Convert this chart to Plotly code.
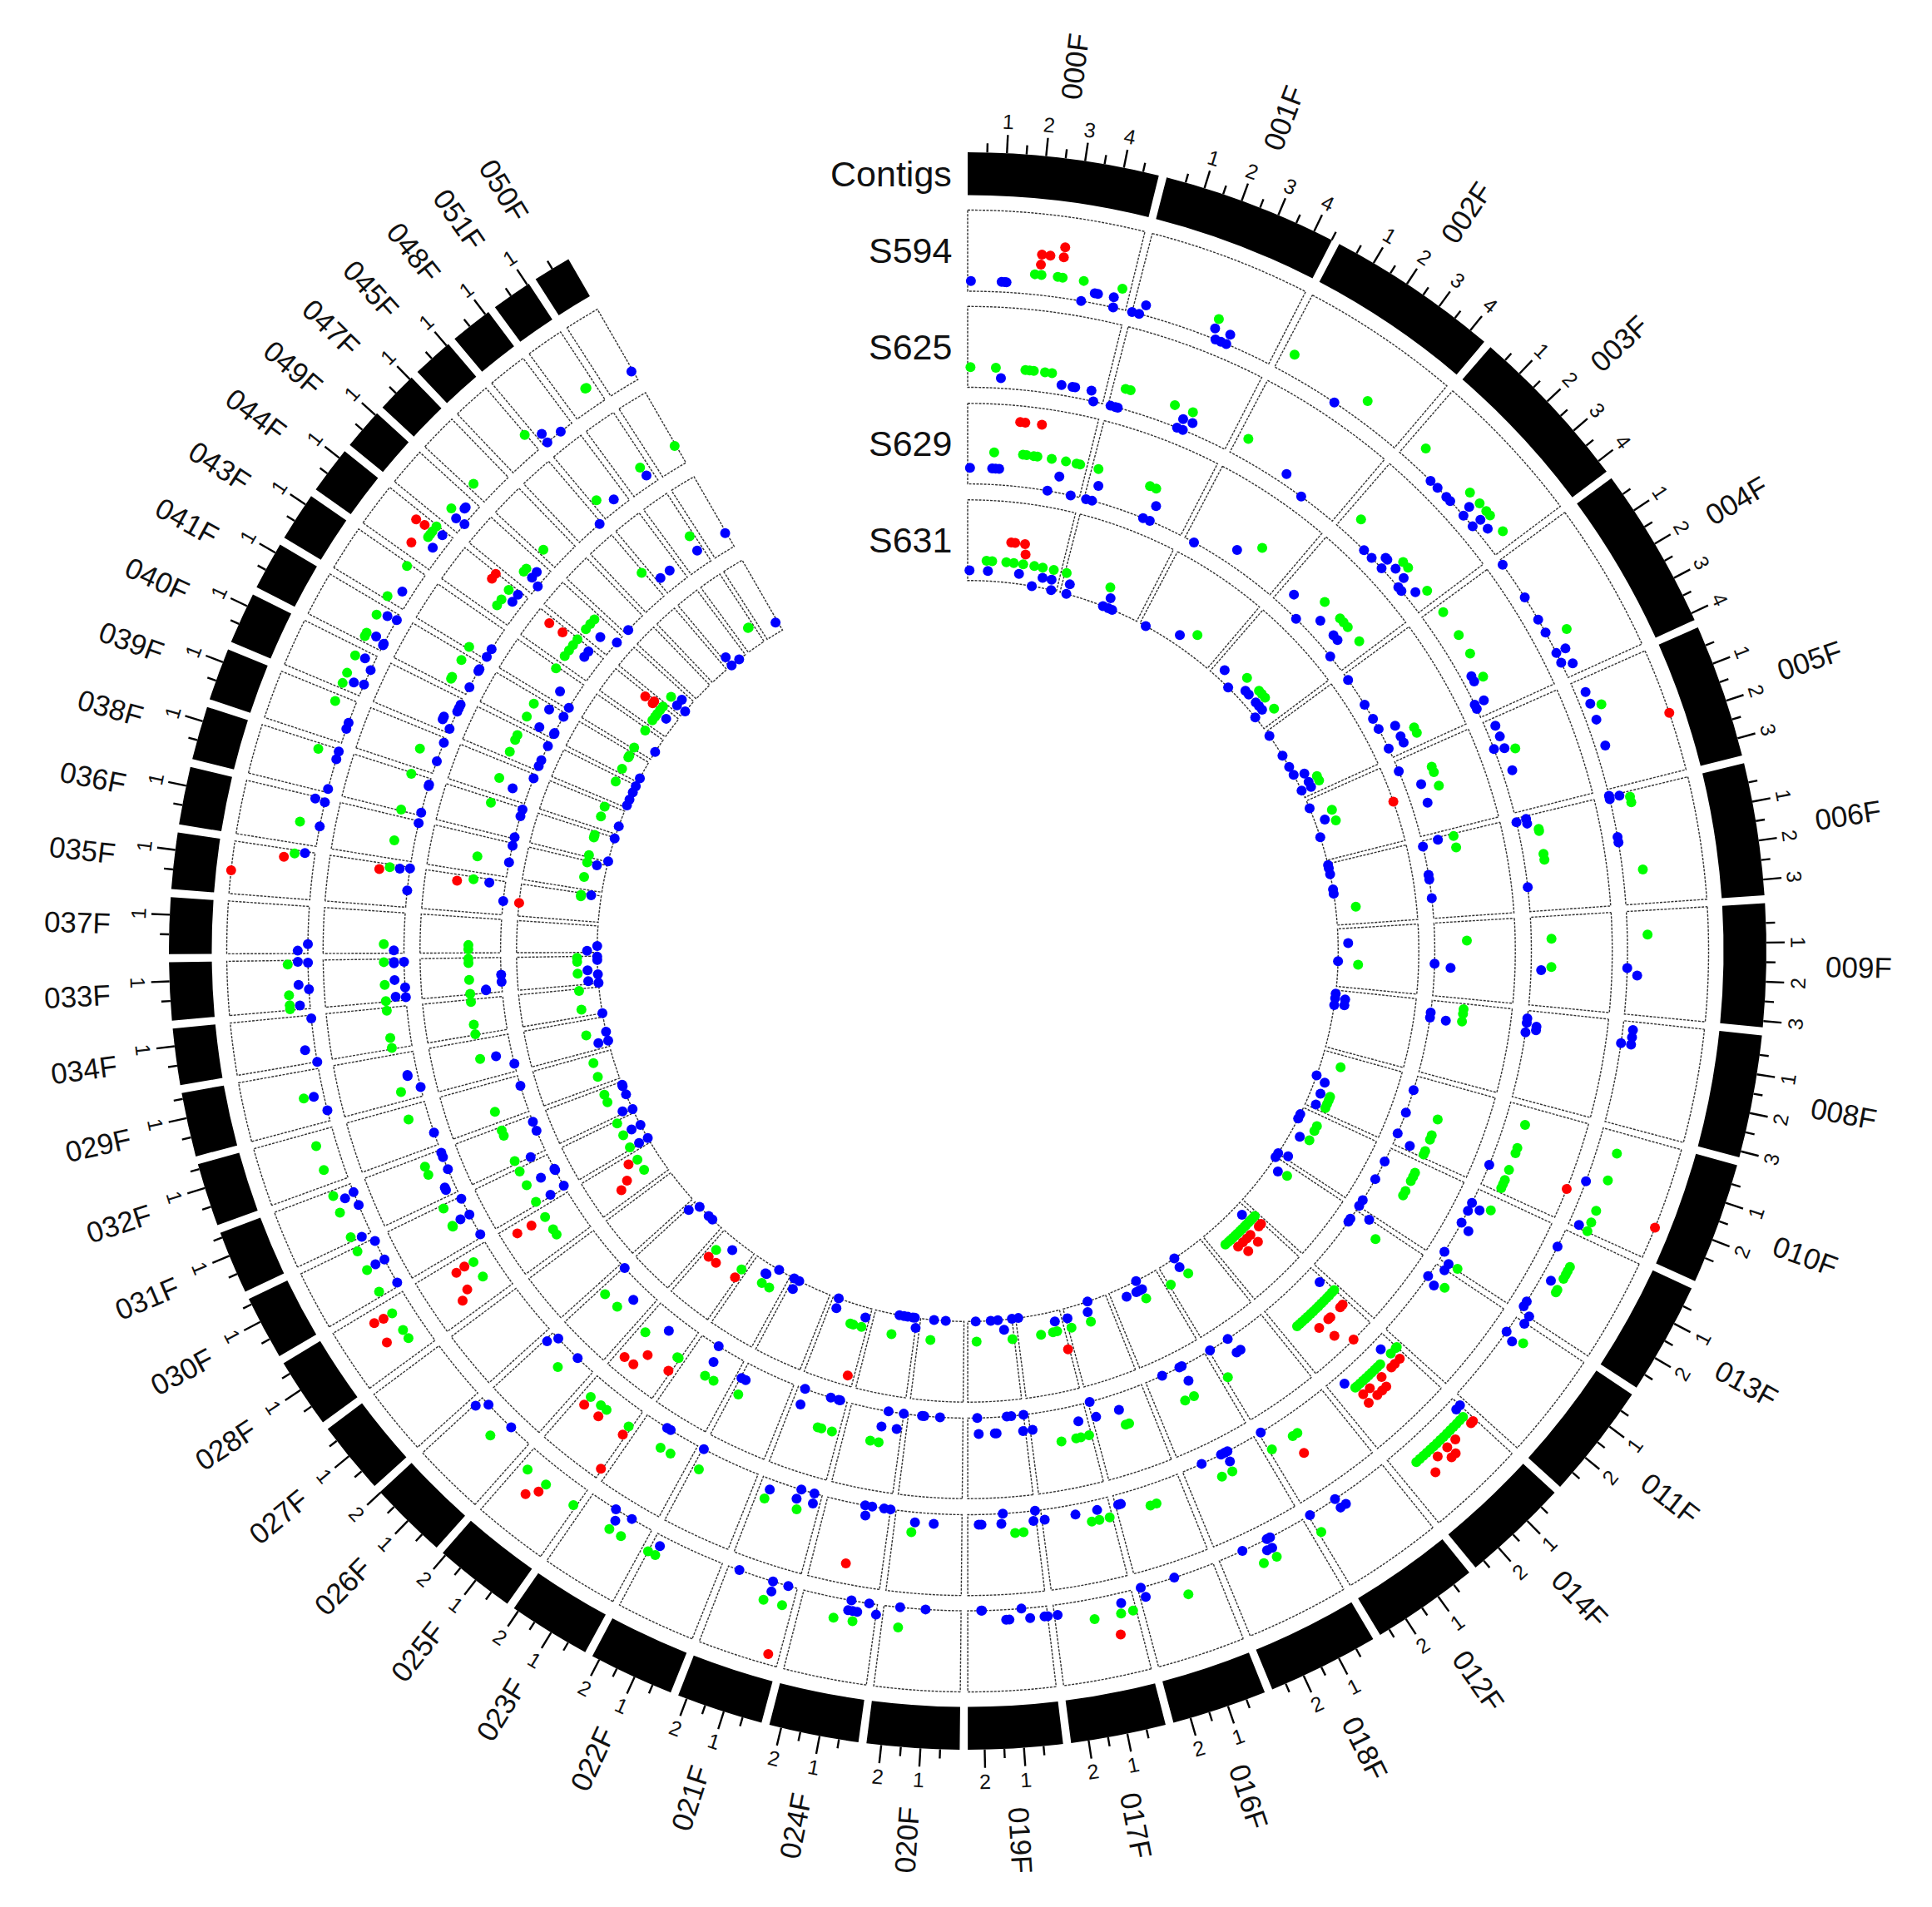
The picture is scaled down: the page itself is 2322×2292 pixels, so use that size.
import math
import plotly.graph_objects as go

# ---- contigs, clockwise from the top, lengths in Mb
CONTIGS = ["000F","001F","002F","003F","004F","005F","006F","009F","008F","010F","013F","011F",
           "014F","012F","018F","016F","017F","019F","020F","024F","021F","022F","023F","025F",
           "026F","027F","028F","030F","031F","032F","029F","034F","033F","037F","035F","036F",
           "038F","039F","040F","041F","043F","044F","049F","047F","045F","048F","051F","050F"]
LENGTHS = [4.91,4.51,4.46,4.34,4.19,3.45,3.40,3.16,3.16,3.14,2.89,2.98,
           2.77,2.77,2.87,2.45,2.45,2.43,2.38,2.31,2.23,2.20,2.13,2.09,
           2.02,1.88,1.81,1.65,1.63,1.63,1.65,1.45,1.49,1.45,1.45,1.49,
           1.38,1.35,1.33,1.24,1.26,1.22,1.06,1.06,1.06,1.10,1.05,0.98]
LAST_TICK = {"010F": 2.5}
TRACK_NAMES = ["S594", "S625", "S629", "S631"]

# ---- readings per track: contig -> (position along contig 0..1, value 0..1)
S594 = {
"000F":dict(b=[(.02,.125),(.21,.125),(.23,.125),(.24,.125),(.715,0),(.79,.125),(.81,.125),(.91,.125),(.92,0)],g=[(.41,.25),(.45,.25),(.55,.25),(.58,.25),(.71,.25),(.95,.25)],r=[(.44,.5),(.49,.5),(.44,.375),(.57,.625),(.57,.5)]),
"001F":dict(b=[(0,0),(.05,0),(.08,.125),(.57,.125),(.68,.125),(.6,0),(.64,0),(.68,0)],g=[(.57,.25)]),
"002F":dict(b=[(.48,0)],g=[(.08,.25),(.66,.25)]),
"003F":dict(b=[(.3,0),(.37,0),(.46,0),(.5,0),(.62,.125),(.64,0),(.74,.125),(.74,0),(.82,.125)],g=[(.12,.25),(.55,.25),(.65,.25),(.72,.25),(.76,.25),(.9,.25)]),
"004F":dict(b=[(.04,0),(.33,0),(.52,0),(.63,0),(.8,.125),(.8,0),(.92,.125),(.88,0)],g=[(.68,.25)]),
"005F":dict(b=[(.12,.125),(.23,.125),(.38,.125),(.62,.125)],g=[(.27,.25)],r=[(.53,1)]),
"006F":dict(b=[(0,0),(.03,0),(.02,.125),(.38,0),(.43,0)],g=[(.05,.25),(.1,.25),(.7,.25)]),
"009F":dict(b=[(.55,0),(.62,.125)],g=[(.23,.25)]),
"008F":dict(b=[(.08,.125),(.15,.125),(.22,.125),(.22,0)]),
"010F":dict(b=[(.55,0),(.97,.125)],g=[(.2,.25),(.47,.25),(.78,.25),(.9,.25),(.99,.25)],r=[(.72,1)]),
"013F":dict(b=[(.2,0),(.55,.125),(.87,0),(.93,0),(.99,.125)],g=[(.33,.25),(.38,.25),(.42,.25),(.47,.25),(.6,.25),(.63,.25)]),
"011F":dict(b=[(.01,.125),(.18,0),(.23,.125)],g=[(.18,.25)]),
"014F":dict(b=[(0,.125),(.06,.125)],g=[(.07,.25),(.12,.25),(.17,.25),(.22,.25),(.27,.25),(.32,.25),(.37,.25),(.42,.25),(.47,.25),(.52,.25),(.57,.25),(.62,.25),(.67,.25),(.72,.25),(.77,.25)],r=[(.03,.375),(.06,.375),(.3,.375),(.42,.375),(.56,.375),(.4,.5),(.46,.5),(.69,.5)]),
"012F":dict(b=[(.65,0),(.98,0),(.58,.125),(.65,.125)],g=[(.97,.25)]),
"018F":dict(b=[(.4,0),(.44,0),(.73,0),(.49,.125),(.43,.125)],g=[(.43,.25),(.58,.25)]),
"016F":dict(b=[(.52,0),(.93,.125),(.96,0)],g=[(.42,.25)]),
"017F":dict(b=[(.16,.125),(.96,.125)],g=[(.19,.25),(.04,.25),(.52,.25)],r=[(.25,.5)]),
"019F":dict(b=[(.04,.125),(0,.125),(.22,.125),(.32,0),(.52,.125),(.48,.125),(.83,0),(.82,0)]),
"020F":dict(b=[(.46,0),(.79,0)],g=[(.79,.25)]),
"024F":dict(b=[(0,.125),(.11,0),(.35,0),(.37,.125),(.31,.125),(.25,.125)],g=[(.29,.25),(.54,.25)]),
"021F":dict(b=[(.13,0),(.35,0),(.33,.125),(.84,0)],g=[(.14,.25),(.4,.25)],r=[(.14,.875)]),
"022F":dict(b=[(.89,.125)],g=[(1,.25),(.89,.25)]),
"023F":dict(b=[(.33,0),(.6,0),(.52,.125)],g=[(.53,.25),(.34,.25)]),
"025F":dict(g=[(.04,.25),(.53,.25),(.87,.25)],r=[(.55,.375),(.67,.5)]),
"026F":dict(b=[(.37,0),(.86,0),(.98,.125)],g=[(.51,.25)]),
"028F":dict(g=[(.78,.25),(.45,.25),(.29,.25)],r=[(.8,.5),(.78,.375),(.43,.5)]),
"030F":dict(b=[(.95,0),(.56,0),(.56,.125),(.07,0)],g=[(.54,.25),(.92,.25),(.09,.25)]),
"031F":dict(b=[(0,.125),(.57,0),(.83,0),(.78,.125)],g=[(.9,.25),(.57,.25),(.08,.25)]),
"032F":dict(g=[(.74,.25),(.28,.25)]),
"029F":dict(b=[(.5,.125),(.2,0)],g=[(.51,.25)]),
"034F":dict(b=[(.93,0),(.28,.125),(0,0)]),
"033F":dict(b=[(.95,0),(.97,.125),(.4,0),(.5,.125),(.08,.125)],g=[(.92,.25),(.3,.25),(.1,.25),(.02,.25)]),
"037F":dict(b=[(.2,0),(.06,.125)]),
"035F":dict(b=[(.97,.125)],g=[(.93,.25)],r=[(.44,1),(.83,.375)]),
"036F":dict(b=[(.42,0),(.93,0),(.96,.125)],g=[(.44,.25)]),
"038F":dict(b=[(.08,0),(.77,0),(.95,0)],g=[(.87,.25)]),
"039F":dict(b=[(.49,0),(.34,0)],g=[(.84,.25)]),
"040F":dict(b=[(.28,0),(.23,.125),(.65,0),(.84,.125)],g=[(.12,.25),(.37,.25),(.8,.25)]),
"041F":dict(b=[(.19,0),(.15,0),(.26,.125),(.86,0),(.83,.125)],g=[(.23,.25),(.14,.25),(.73,.25)]),
"043F":dict(b=[(.36,.125)],g=[(.08,.25),(.93,.25)]),
"044F":dict(b=[(.5,.125),(.89,.125)],g=[(.64,.25),(.72,.25),(.81,.25),(.97,.25)],r=[(.29,.375),(.8,.5),(.82,.375)]),
"049F":dict(b=[(.33,0),(.3,.125),(.67,.125),(.72,.125)],g=[(.43,.25)]),
"047F":dict(g=[(.17,.25)]),
"045F":dict(g=[(.97,.25)]),
"048F":dict(b=[(.16,.125),(.13,0),(.61,0)]),
"051F":dict(g=[(.7,.25),(.74,.25)]),
"050F":dict(b=[(.95,.125)]),
}
S625 = {
"000F":dict(b=[(.24,.125),(.68,.125),(.76,.125),(.78,.125),(.9,.125),(.93,0)],g=[(.02,.25),(.2,.25),(.41,.25),(.44,.25),(.47,.25),(.55,.25),(.6,.25)]),
"001F":dict(b=[(.02,0),(.06,0),(.08,0),(.6,.125),(.68,.125),(.58,0),(.63,0)],g=[(.1,.25),(.14,.25),(.5,.25),(.65,.25)]),
"002F":dict(b=[(.48,.125),(.68,0)],g=[(.08,.25)]),
"003F":dict(b=[(.31,0),(.4,0),(.52,0),(.48,.125),(.5,.125),(.6,.125),(.7,.125),(.73,0),(.77,0),(.85,.125)],g=[(.12,.25),(.6,.25),(.66,.25),(.9,.25)]),
"004F":dict(b=[(.65,.125),(.7,.125),(.88,0),(.92,0),(.88,.125)],g=[(.07,.25),(.3,.25),(.48,.25),(.7,.25)]),
"005F":dict(b=[(.08,.125),(.2,.125),(.3,0),(.33,.125),(.57,.125)],g=[(.37,.25)]),
"006F":dict(b=[(.04,0),(.03,.125),(.08,.125),(.74,0)],g=[(.16,.25),(.18,.25),(.42,.25),(.48,.25)]),
"009F":dict(b=[(.6,.125)],g=[(.25,.25),(.56,.25)]),
"008F":dict(b=[(.09,0),(.14,0),(.25,0),(.17,.125),(.21,.125)]),
"010F":dict(b=[(.76,0)],g=[(.2,.25),(.47,.25),(.53,.25),(.73,.25),(.85,.25),(.9,.25),(.95,.25)],r=[(.69,1)]),
"013F":dict(b=[(.19,0),(.3,0),(.23,.125),(.47,0),(.52,.125),(.89,0),(.99,.125)],g=[(.17,.25),(.98,.25)]),
"011F":dict(b=[(.01,.125),(.18,0),(.23,.125)],g=[(.18,.25)]),
"014F":dict(b=[(.16,.125),(.8,.125)],g=[(0,.25),(.02,.25),(.11,.25),(.3,.25),(.35,.25),(.4,.25),(.45,.25),(.5,.25),(.55,.25),(.6,.25),(.65,.25),(.7,.25),(.73,.25)],r=[(.08,.375),(.17,.375),(.23,.375),(.4,.375),(.6,.375),(.71,.375),(.44,.5),(.51,.5),(.59,.5),(.73,.5)]),
"012F":dict(b=[(.97,0)],g=[(.58,.25),(.65,.25),(.96,.25)],r=[(.65,.5)]),
"018F":dict(b=[(.38,0),(.42,0),(.47,0),(.41,.125),(.74,0)],g=[(.58,.25),(.44,.25)]),
"016F":dict(b=[(.92,.125),(.96,.125)],g=[(.52,.25),(.43,.25)]),
"017F":dict(b=[(.19,.125),(.51,.125),(.96,.125)],g=[(.04,.25),(.19,.25),(.3,.25)]),
"019F":dict(b=[(0,0),(.04,.125),(.48,0),(.51,.125),(.8,.125),(.84,.125)],g=[(.32,.25),(.2,.25)]),
"020F":dict(b=[(.42,.125),(.7,.125)],g=[(.74,.25)]),
"024F":dict(b=[(0,0),(.1,0),(.29,0),(.4,0),(.37,.125)],r=[(.52,.75)]),
"021F":dict(b=[(.13,0),(.35,0),(.11,.125),(.38,.125),(.83,.125)],g=[(.86,.25),(.33,.25)]),
"022F":dict(b=[(.98,0)],g=[(.9,.25)]),
"023F":dict(b=[(.6,0),(.53,0)],g=[(.52,.25),(.33,.25)]),
"025F":dict(g=[(.05,.25),(.85,.25),(.63,.25),(.51,.25)],r=[(.05,.375),(.02,.875),(.85,.375),(.55,.375)]),
"026F":dict(b=[(.86,0),(.96,.125),(.37,0)],g=[(.51,.25)]),
"028F":dict(g=[(.78,.25),(.45,.25)],r=[(.78,.5),(.8,.375),(.41,.5),(.29,.625)]),
"030F":dict(b=[(.95,0),(.56,0),(.56,.125),(.07,0)],g=[(.93,.25),(.52,.25),(.5,.25)]),
"031F":dict(b=[(.14,.125),(.2,.125),(.93,0),(.83,0),(.54,0)],g=[(.78,.25),(.59,.25)]),
"032F":dict(b=[(.28,0)],g=[(.72,.25)]),
"029F":dict(b=[(.2,0),(.52,.125),(.5,.125)],g=[(.2,.25)]),
"034F":dict(g=[(.03,.25),(.27,.25),(.93,.25)]),
"033F":dict(b=[(.93,.125),(.9,.125),(.93,0),(.5,.125),(.31,0),(.07,0),(.1,.125)],g=[(.93,.25),(.4,.25),(.02,.25)]),
"037F":dict(b=[(.07,.125)],g=[(.22,.25)]),
"035F":dict(b=[(.93,.125),(.97,0),(.42,0)],g=[(.93,.25)],r=[(.85,.375)]),
"036F":dict(b=[(.95,0)],g=[(.43,.25)]),
"038F":dict(b=[(.08,0),(.8,0),(.84,0)],g=[(.03,.25),(.97,.25)]),
"039F":dict(b=[(.34,0),(.87,0)],g=[(.5,.25)]),
"040F":dict(b=[(.28,.125),(.36,.125),(.12,0),(.84,0),(.63,0),(.73,0)]),
"041F":dict(b=[(.23,0),(.77,0),(.83,0)],g=[(.2,.25),(.26,.25),(.8,.25)]),
"043F":dict(b=[(.08,0),(.34,0)],g=[(.06,.25)]),
"044F":dict(b=[(.64,.125),(.9,.125)],g=[(.29,.25),(.5,.25),(.84,.25)],r=[(.8,.5),(.97,.5)]),
"049F":dict(b=[(.33,0),(.43,.125),(.67,.125)],g=[(.53,.25),(.4,.25)]),
"047F":dict(g=[(.17,.25)]),
"045F":dict(b=[(.93,0)]),
"048F":dict(b=[(.61,.125)],g=[(.16,.25)]),
"051F":dict(b=[(.76,.125)],g=[(.73,.25)]),
"050F":dict(g=[(.95,.25)]),
}
S629 = {
"000F":dict(b=[(.02,.2),(.21,.2),(.24,.2),(.27,.2),(.79,.2),(.71,0),(.92,0)],g=[(.22,.4),(.46,.4),(.49,.4),(.55,.4),(.58,.4),(.7,.4),(.82,.4),(.91,.4),(.94,.4)],r=[(.41,.8),(.45,.8),(.58,.8)]),
"001F":dict(b=[(.1,.2),(.02,0),(.08,0),(.67,.2),(.6,0),(.67,0)],g=[(.06,.4),(.55,.4),(.61,.4)]),
"002F":dict(b=[(.1,0),(.49,.2)],g=[(.67,.4)]),
"003F":dict(b=[(.13,.2),(.31,0),(.49,.2),(.68,.2),(.74,.2),(.82,0)],g=[(.39,.4),(.6,.4),(.65,.4),(.71,.4),(.88,.4)]),
"004F":dict(b=[(.07,0),(.38,0),(.55,0),(.67,0),(.72,.2),(.84,.2),(.91,.2),(.9,0)],g=[(.82,.4),(.88,.4)]),
"005F":dict(b=[(.13,0),(.38,.2),(.62,.2)],g=[(.23,.4),(.3,.4),(.47,.4)]),
"006F":dict(b=[(.07,0),(.03,.2),(.44,0),(.5,0),(.74,0)],g=[(.03,.4),(.17,.4)]),
"009F":dict(b=[(.56,0),(.61,.2)],g=[(.25,.4)]),
"008F":dict(b=[(.17,0),(.24,0),(.25,.2)],g=[(.07,.4),(.13,.4),(.23,.4)]),
"010F":dict(b=[(.2,0),(.53,0),(.84,0),(.93,.2)],g=[(.47,.4),(.69,.4),(.75,.4),(.91,.4),(.96,.4)]),
"013F":dict(b=[(.22,0),(.52,0),(.89,0),(.99,0)],g=[(.17,.4),(.23,.4),(.3,.4),(.46,.4),(.53,.4)]),
"011F":dict(b=[(.2,0),(.15,0),(.01,.2)],g=[(.18,.4)]),
"014F":dict(b=[(.07,.2)],g=[(.01,.4),(.06,.4),(.12,.4),(.17,.4),(.23,.4),(.28,.4),(.34,.4),(.39,.4),(.45,.4),(.5,.4),(.56,.4),(.61,.4),(.67,.4),(.72,.4),(.77,.4)],r=[(.08,.6),(.13,.6),(.33,.6),(.37,.6),(.55,.6),(.47,.8),(.32,1)]),
"012F":dict(b=[(.65,0),(.98,0),(.65,.2),(.58,.2)],g=[(.96,.4)]),
"018F":dict(b=[(.4,0),(.44,0),(.73,0),(.41,.2)],g=[(.58,.4),(.44,.4)]),
"016F":dict(b=[(.52,.2),(.93,.2),(.97,0)],g=[(.49,.4),(.43,.4)]),
"017F":dict(b=[(.16,.2),(.96,.2)],g=[(.04,.4),(.18,.4),(.26,.4),(.51,.4)]),
"019F":dict(b=[(.04,.2),(0,0),(.22,0),(.3,0),(.53,.2),(.5,.2),(.81,.2),(.83,0)]),
"020F":dict(b=[(.42,0),(.71,0),(.75,0)]),
"024F":dict(b=[(0,0),(.09,.2),(.29,0),(.37,.2)],g=[(.52,.4),(.37,.4)]),
"021F":dict(b=[(.14,0),(.17,0),(.33,0),(.86,0),(.84,.2)],g=[(.4,.4),(.33,.4),(.13,.4)]),
"022F":dict(b=[(.98,.2),(.89,.2)],g=[(.89,.4)]),
"023F":dict(b=[(.52,.2),(.6,0)],g=[(.52,.4),(.33,.4)]),
"025F":dict(b=[(.51,.2)],g=[(.85,.4),(.03,.4),(.06,.4)],r=[(.85,.8),(.64,.8),(.54,.6),(.05,.6)]),
"026F":dict(b=[(.98,0),(.37,.2)],g=[(.86,.4),(.51,.4)]),
"028F":dict(g=[(.78,.4),(.45,.4),(.31,.4)],r=[(.8,.8),(.78,.6)]),
"030F":dict(b=[(.07,0),(.54,0),(.58,0),(.54,.2),(.04,.2)],g=[(.54,.4),(.07,.4),(.92,.4)]),
"031F":dict(b=[(0,.2),(.57,0),(.83,0)],g=[(.08,.4),(.91,.4),(.77,.4)]),
"032F":dict(b=[(.72,0)],g=[(.28,.4)]),
"029F":dict(b=[(.2,0),(.5,.2)],g=[(.52,.4)]),
"034F":dict(g=[(.02,.4),(.29,.4),(.93,.4)]),
"033F":dict(b=[(.5,0),(.29,0),(.1,.2),(.08,.2)],g=[(.98,.4),(.86,.4),(.4,.4),(.02,.4)]),
"037F":dict(g=[(.22,.4),(.1,.4)]),
"035F":dict(b=[(.9,.2),(.41,0)],g=[(.93,.4)],r=[(.83,.6)]),
"036F":dict(b=[(.43,0),(.93,0)],g=[(.43,.4)]),
"038F":dict(b=[(.05,0),(.96,0),(.74,0)],g=[(.87,.4)]),
"039F":dict(b=[(.34,.2),(.87,0)],g=[(.5,.4)]),
"040F":dict(b=[(.36,0),(.15,0),(.87,0)],g=[(.76,.4),(.6,.4),(.2,.4)]),
"041F":dict(b=[(.17,0),(.21,0),(.14,.2),(.83,.2),(.86,0)],g=[(.74,.4),(.26,.4)]),
"043F":dict(b=[(.06,0),(.37,.2)],g=[(.93,.4)]),
"044F":dict(b=[(.64,.2),(.87,.2)],g=[(.26,.4),(.5,.4),(.72,.4),(.96,.4)],r=[(.81,.8),(.84,.6)]),
"049F":dict(b=[(.4,.2),(.67,0)],g=[(.27,.4),(.53,.4),(.77,.4)]),
"047F":dict(b=[(.17,0)]),
"045F":dict(g=[(.93,.4)]),
"048F":dict(b=[(.16,.2),(.61,.2)]),
"051F":dict(b=[(.76,.2)],g=[(.83,.4)]),
"050F":dict(b=[(.95,.2)]),
}
S631 = {
"000F":dict(b=[(.02,.125),(.22,.125),(.56,.125),(.72,0),(.82,.125),(.92,.125),(.94,0)],g=[(.2,.25),(.26,.25),(.41,.25),(.49,.25),(.59,.25),(.71,.25),(.8,.25),(.92,.25)],r=[(.44,.5),(.48,.5),(.58,.5),(.6,.375)]),
"001F":dict(b=[(.09,.125),(.08,0),(.6,.125),(.55,0),(.62,0),(.67,0)],g=[(.02,.25),(.55,.25)]),
"002F":dict(b=[(.08,0),(.49,.125)],g=[(.66,.25)]),
"003F":dict(b=[(.13,.125),(.31,0),(.49,.125),(.55,.125),(.68,.125),(.74,.125),(.82,0),(.8,.125)],g=[(.39,.25),(.6,.25),(.65,.25),(.71,.25),(.88,.25)]),
"004F":dict(b=[(.07,0),(.38,0),(.55,0),(.67,0),(.72,.125),(.84,.125),(.91,.125),(.9,0)],g=[(.82,.25),(.88,.25)]),
"005F":dict(b=[(.13,0),(.38,.125),(.62,0)],g=[(.28,.25),(.45,.25)],r=[(.47,1)]),
"006F":dict(b=[(.02,0),(.07,0),(.17,0),(.42,0),(.49,0)],g=[(.74,.25)]),
"009F":dict(b=[(.25,.125),(.56,0)],g=[(.61,.25)]),
"008F":dict(b=[(.06,0),(.14,0),(.26,0),(.14,.125),(.24,.125)]),
"010F":dict(b=[(.46,0),(.53,.125),(.73,.125),(.93,.125)],g=[(.2,.25),(.72,.25),(.78,.25),(.85,.25),(.92,.25)]),
"013F":dict(b=[(.14,0),(.23,0),(.52,.125),(.94,.125),(.99,0)],g=[(.2,.25),(.3,.25),(.49,.25)]),
"011F":dict(b=[(.2,.125),(.01,0)],g=[(.17,.25)]),
"014F":dict(b=[(.15,.125)],g=[(0,.25),(.06,.25),(.11,.25),(.17,.25),(.23,.25),(.28,.25),(.34,.25),(.4,.25),(.46,.25),(.52,.25),(.58,.25),(.64,.25),(.7,.25),(.77,.25)],r=[(.03,.375),(.09,.375),(.31,.375),(.4,.375),(.5,.375),(.62,.375),(.3,.5),(.54,.5)]),
"012F":dict(b=[(.64,0),(.65,.125)],g=[(.58,.25),(.97,.25)]),
"018F":dict(b=[(.4,.125),(.52,.125),(.72,.125),(.43,0),(.46,.125)],g=[(.41,.25)]),
"016F":dict(b=[(.43,0),(.5,.125),(.96,.125)],g=[(.5,.25),(.93,.25)]),
"017F":dict(b=[(.16,.125),(.94,0)],g=[(.51,.25),(.25,.25),(.16,.25)],r=[(.03,.5)]),
"019F":dict(b=[(0,0),(.2,.125),(.32,0),(.48,0),(.82,0)],g=[(.04,.25),(.81,.25)]),
"020F":dict(b=[(.42,0),(.69,0)],g=[(.73,.25)]),
"024F":dict(b=[(0,.125),(.05,0),(.1,0),(.22,0),(.31,0),(.42,0)],g=[(.52,.25)]),
"021F":dict(b=[(.1,.125),(.86,0),(.83,.125)],g=[(.13,.25),(.33,.25),(.4,.25)],r=[(.13,.875)]),
"022F":dict(b=[(.89,.125),(.98,0),(.84,0)]),
"023F":dict(b=[(.33,0),(.55,.125),(.58,.125)],g=[(.53,.25),(.32,.25)]),
"025F":dict(b=[(.51,.125)],g=[(.83,.25),(.03,.25)],r=[(.86,.375),(.63,.375),(.05,.375)]),
"026F":dict(b=[(.96,.125),(.82,0),(.47,0),(.33,0)]),
"028F":dict(g=[(.76,.25),(.41,.25)],r=[(.78,.375),(.43,.5),(.3,.625)]),
"030F":dict(b=[(.04,0),(.04,.125),(.54,0),(.54,.125)],g=[(.5,.25),(.07,.25),(.92,.25)]),
"031F":dict(b=[(0,0),(.07,.125),(.54,0),(.89,0),(.84,0)],g=[(.54,.25),(.8,.25)]),
"032F":dict(g=[(.28,.25),(.74,.25)]),
"029F":dict(b=[(.5,0),(.19,0),(.19,.125)],g=[(.52,.25)]),
"034F":dict(b=[(0,0)],g=[(.25,.25),(.93,.25)]),
"033F":dict(b=[(.98,0),(.86,0),(.33,0),(.02,0),(.5,.125),(.11,.125)],g=[(.95,.25),(.81,.25),(.4,.25)]),
"037F":dict(b=[(.24,0),(.06,.125)]),
"035F":dict(b=[(.97,.125)],g=[(.88,.25),(.93,.25)],r=[(.41,1)]),
"036F":dict(b=[(.93,.125)],g=[(.43,.25),(.95,.25)]),
"038F":dict(b=[(.03,0),(.97,0)],g=[(.08,.25),(.77,.25),(.87,.25)]),
"039F":dict(b=[(.34,0)],g=[(.47,.25),(.87,.25)]),
"040F":dict(b=[(.1,0),(.36,0),(.69,0),(.97,0)],g=[(.79,.25)]),
"041F":dict(b=[(.2,0)],g=[(.2,.25),(.75,.25),(.83,.25)]),
"043F":dict(b=[(.37,0)],g=[(.06,.25),(.9,.25)]),
"044F":dict(b=[(.67,.125)],g=[(.26,.25),(.45,.25),(.6,.25),(.8,.25),(1,.25)],r=[(.87,.5),(.84,.375),(.94,.375)]),
"049F":dict(b=[(.33,0),(.3,.125),(.67,.125)],g=[(.43,.25)]),
"048F":dict(b=[(.16,.125),(.13,0),(.61,0)]),
"051F":dict(g=[(.7,.25),(.74,.25)]),
"050F":dict(b=[(.88,.125)]),
}
TRACK_DATA = [S594, S625, S629, S631]

# ---- layout constants (pixels of the 2322x2292 page; the radial axis is in these units)
W, H = 2322, 2292
CX, CY, RMAX = 1163, 1143, 1143
DEG_PER_MB, GAP_DEG = 2.82, 0.58
RING = (908.5, 960)
TRACKS = [(793, 890.5), (677.5, 774.7), (561.4, 658.2), (445.3, 542.2)]
COLORS = {"b": "#0000FF", "g": "#00FF00", "r": "#FF0000"}

starts, t = {}, 0.0
for name, length in zip(CONTIGS, LENGTHS):
    starts[name] = t
    t += length * DEG_PER_MB + GAP_DEG
size = dict(zip(CONTIGS, LENGTHS))
theta_of = lambda c, mb: starts[c] + mb * DEG_PER_MB


def paper(theta, r):
    a = math.radians(theta)
    return (CX + r * math.sin(a)) / W, 1 - (CY - r * math.cos(a)) / H


fig = go.Figure()

# contig ring
fig.add_trace(go.Barpolar(
    theta=[theta_of(c, size[c] / 2) for c in CONTIGS],
    width=[size[c] * DEG_PER_MB for c in CONTIGS],
    base=[RING[0]] * len(CONTIGS), r=[RING[1] - RING[0]] * len(CONTIGS),
    marker=dict(color="black", line=dict(width=0)), hoverinfo="skip", showlegend=False))

# ticks
ann = []
major_th, major_r, minor_th, minor_r = [], [], [], []
for c in CONTIGS:
    k = 1
    limit = LAST_TICK.get(c, size[c])
    while k * 0.5 <= limit:
        mb = k * 0.5
        th = theta_of(c, mb)
        if k % 2 == 0:
            major_th += [th, th, None]; major_r += [RING[1], RING[1] + 22, None]
            rot = th if th < 90 else (th - 180 if th < 270 else th - 360)
            x, y = paper(th, 998)
            ann.append(dict(x=x, y=y, text=str(int(mb)), textangle=rot,
                            font=dict(size=25, color="#111111")))
        else:
            minor_th += [th, th, None]; minor_r += [RING[1], RING[1] + 11, None]
        k += 1
for th_list, r_list in ((major_th, major_r), (minor_th, minor_r)):
    fig.add_trace(go.Scatterpolar(theta=th_list, r=r_list, mode="lines",
                                  line=dict(color="black", width=2.4),
                                  hoverinfo="skip", showlegend=False))

# cell frames
frame_th, frame_r = [], []
for lo, hi in TRACKS:
    for c in CONTIGS:
        a, b = theta_of(c, 0), theta_of(c, size[c])
        n = max(2, int((b - a) / 0.5))
        arc = [a + (b - a) * i / n for i in range(n + 1)]
        frame_th += arc + arc[::-1] + [a, None]
        frame_r += [hi] * (n + 1) + [lo] * (n + 1) + [hi, None]
fig.add_trace(go.Scatterpolar(theta=frame_th, r=frame_r, mode="lines",
                              line=dict(color="#333333", width=1.4, dash="3px,1.5px"),
                              hoverinfo="skip", showlegend=False))

# points
for (lo, hi), data, tname in zip(TRACKS, TRACK_DATA, TRACK_NAMES):
    for key in "bgr":
        ths, rs = [], []
        for c, cell in data.items():
            for f, v in cell.get(key, []):
                ths.append(theta_of(c, f * size[c]))
                rs.append(lo + v * (hi - lo))
        fig.add_trace(go.Scatterpolar(theta=ths, r=rs, mode="markers", name=f"{tname} {key}",
                                      marker=dict(color=COLORS[key], size=12, line=dict(width=0)),
                                      showlegend=False))

# contig names
for c in CONTIGS:
    th = theta_of(c, size[c] / 2)
    rot = th - 90 if th < 180 else th - 270
    x, y = paper(th, 1071)
    ann.append(dict(x=x, y=y, text=c, textangle=rot, font=dict(size=35, color="#111111")))

# track labels, right-aligned just left of the first sector
for text, (lo, hi) in zip(["Contigs"] + TRACK_NAMES, [RING] + TRACKS):
    ann.append(dict(x=(CX - 18) / W, y=1 - (CY - (lo + hi) / 2) / H, text=text,
                    xanchor="right", font=dict(size=43, color="#111111")))

for a in ann:
    a.update(xref="paper", yref="paper", showarrow=False, borderpad=0)
    a.setdefault("xanchor", "center")
    a.setdefault("yanchor", "middle")

fig.update_layout(
    width=W, height=H, margin=dict(l=0, r=0, t=0, b=0), paper_bgcolor="white",
    font=dict(family="Liberation Sans, Arial, sans-serif"),
    annotations=ann, showlegend=False,
    polar=dict(
        domain=dict(x=[(CX - RMAX) / W, (CX + RMAX) / W], y=[1 - (CY + RMAX) / H, 1 - (CY - RMAX) / H]),
        bgcolor="white",
        radialaxis=dict(visible=False, range=[0, RMAX]),
        angularaxis=dict(visible=False, direction="clockwise", rotation=90, thetaunit="degrees"),
    ),
)
fig.write_html("out.html", config={"displayModeBar": False},
               post_script="document.body.style.margin='0';document.body.style.overflow='hidden';")
